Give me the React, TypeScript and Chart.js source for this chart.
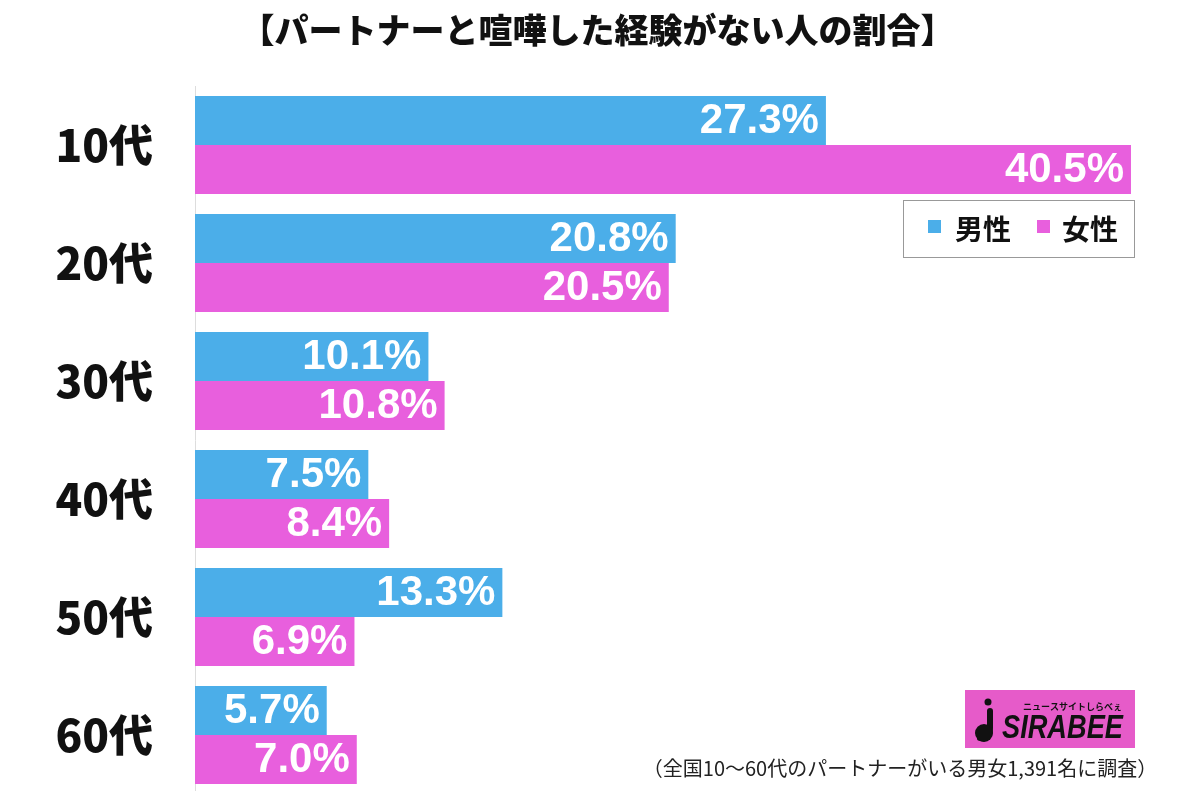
import React, { useEffect, useRef } from "react";
import { Chart, registerables } from "chart.js";

Chart.register(...registerables);

const titleText = "【パートナーと喧嘩した経験がない人の割合】";
const categories = ["10代", "20代", "30代", "40代", "50代", "60代"];
const maleValues = [27.3, 20.8, 10.1, 7.5, 13.3, 5.7];
const femaleValues = [40.5, 20.5, 10.8, 8.4, 6.9, 7.0];
const seriesNames = ["男性", "女性"];
const footnote = "（全国10〜60代のパートナーがいる男女1,391名に調査）";
const logoText = "SIRABEE";
const logoSub = "ニュースサイトしらべぇ";

const BLUE = "#4BAEE9";
const PINK = "#E85FDD";
const JP = '"Noto Sans CJK JP", "Noto Sans", sans-serif';
const LAT = '"Liberation Sans", Arial, sans-serif';

const valueLabels = {
  id: "valueLabels",
  afterDatasetsDraw(chart: any) {
    const ctx = chart.ctx;
    ctx.save();
    ctx.fillStyle = "#ffffff";
    ctx.font = `bold 42px ${LAT}`;
    ctx.textAlign = "right";
    ctx.textBaseline = "middle";
    chart.data.datasets.forEach((ds: any, di: number) => {
      const meta = chart.getDatasetMeta(di);
      meta.data.forEach((bar: any, i: number) => {
        const v = ds.data[i] as number;
        ctx.fillText(`${v.toFixed(1)}%`, bar.x - 7, bar.y + 1);
      });
    });
    ctx.restore();
  },
};

const extras = {
  id: "extras",
  afterDraw(chart: any) {
    const ctx = chart.ctx;
    ctx.save();
    // legend box
    ctx.strokeStyle = "#333";
    ctx.lineWidth = 1;
    ctx.setLineDash([1, 1]);
    ctx.strokeRect(903.5, 200.5, 231, 57);
    ctx.setLineDash([]);
    const items = [
      { x: 928, tx: 955, color: chart.data.datasets[0].backgroundColor, label: chart.data.datasets[0].label },
      { x: 1037, tx: 1062, color: chart.data.datasets[1].backgroundColor, label: chart.data.datasets[1].label },
    ];
    ctx.textAlign = "left";
    ctx.textBaseline = "middle";
    ctx.font = `bold 28px ${JP}`;
    items.forEach((it) => {
      ctx.fillStyle = it.color;
      ctx.fillRect(it.x, 220, 13, 13);
      ctx.fillStyle = "#111";
      ctx.fillText(it.label, it.tx, 229);
    });

    // logo
    ctx.fillStyle = "#E65BC9";
    ctx.fillRect(965, 690, 170, 58);
    ctx.fillStyle = "#111";
    ctx.beginPath();
    ctx.arc(988, 702, 3.5, 0, Math.PI * 2);
    ctx.fill();
    ctx.lineWidth = 6;
    ctx.strokeStyle = "#111";
    ctx.lineCap = "round";
    ctx.beginPath();
    ctx.moveTo(990, 711);
    ctx.lineTo(990, 728);
    ctx.quadraticCurveTo(990, 741, 980, 738);
    ctx.stroke();
    ctx.beginPath();
    ctx.arc(984, 733, 9, 0, Math.PI * 2);
    ctx.fill();
    ctx.save();
    ctx.translate(1002, 738);
    ctx.scale(0.8, 1);
    ctx.font = `italic bold 34px ${LAT}`;
    ctx.textAlign = "left";
    ctx.textBaseline = "alphabetic";
    ctx.fillText(logoText, 0, 0);
    ctx.restore();
    ctx.font = `bold 9px ${JP}`;
    ctx.textAlign = "right";
    ctx.textBaseline = "middle";
    ctx.fillText(logoSub, 1122, 707);

    // footnote
    ctx.font = `20px ${JP}`;
    ctx.fillStyle = "#222";
    ctx.textAlign = "center";
    ctx.textBaseline = "middle";
    ctx.fillText(footnote, 900, 768);
    ctx.restore();
  },
};

export default function App() {
  const ref = useRef<HTMLCanvasElement | null>(null);
  useEffect(() => {
    if (!ref.current) return;
    const chart = new Chart(ref.current, {
      type: "bar",
      data: {
        labels: categories,
        datasets: [
          { label: seriesNames[0], data: maleValues, backgroundColor: BLUE, borderWidth: 0 },
          { label: seriesNames[1], data: femaleValues, backgroundColor: PINK, borderWidth: 0 },
        ],
      },
      options: {
        indexAxis: "y",
        animation: false,
        responsive: false,
        maintainAspectRatio: false,
        datasets: { bar: { categoryPercentage: 0.83, barPercentage: 1.0 } },
        layout: { padding: { left: 0, right: 5, top: 0, bottom: 6 } },
        plugins: {
          legend: { display: false },
          tooltip: { enabled: false },
          title: {
            display: true,
            text: titleText,
            color: "#111",
            font: { family: JP, size: 34, weight: "900" as any },
            padding: { top: 10, bottom: 35.2 },
          },
        },
        scales: {
          x: { display: false, min: 0, max: 43.27 },
          y: {
            afterFit: (scale: any) => {
              scale.width = 195;
              scale.paddingTop = 0;
              scale.paddingBottom = 0;
            },
            grid: { display: false, drawTicks: false },
            border: { display: true, color: "#dddddd", width: 1 },
            ticks: {
              color: "#111",
              padding: 42,
              font: { family: JP, size: 44, weight: "900" as any },
            },
          },
        },
      },
      plugins: [valueLabels, extras],
    });
    return () => chart.destroy();
  }, []);
  return (
    <div style={{ position: "fixed", left: 0, top: 0, width: 1200, height: 791, overflow: "hidden", background: "#fff" }}>
      <canvas ref={ref} width={1200} height={800} style={{ display: "block", width: 1200, height: 800 }} />
    </div>
  );
}
